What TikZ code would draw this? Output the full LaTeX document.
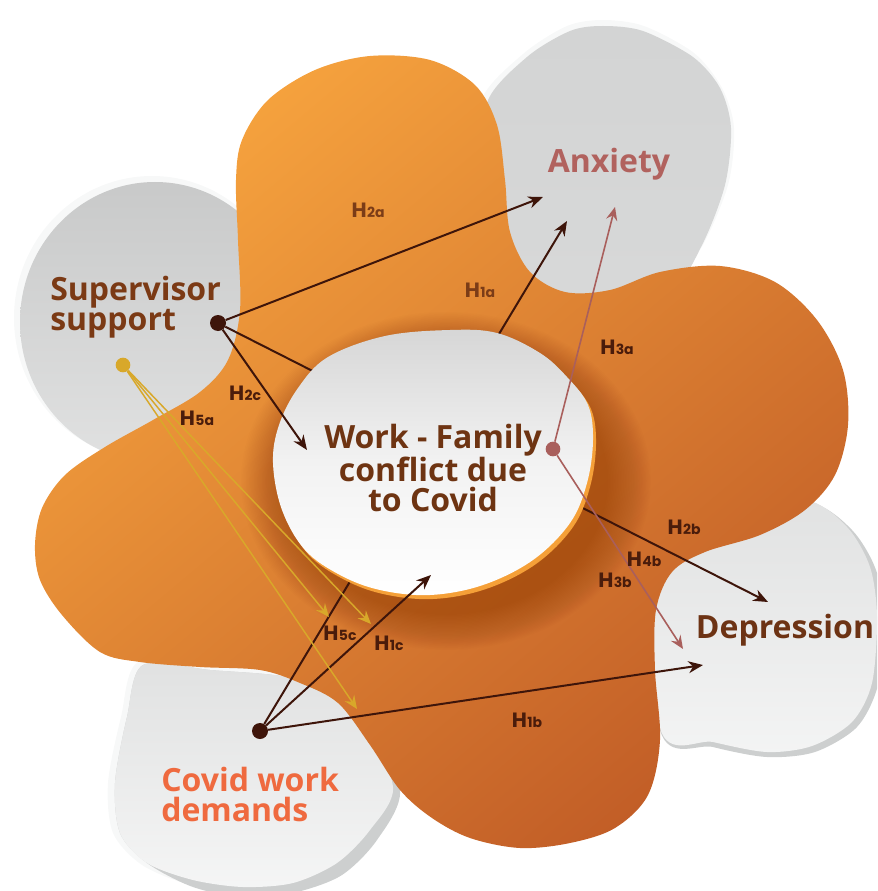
\documentclass[tikz,border=0pt]{standalone}
\usepackage{fontspec}
\setmainfont{Open Sans}
\newfontfamily\hypfont{Poppins}
\usetikzlibrary{arrows.meta}

\definecolor{greypetal}{HTML}{D3D4D4}
\definecolor{greylight}{HTML}{ECEDED}
\definecolor{greyshadow}{HTML}{CDCFCF}
\definecolor{ringwhite}{HTML}{F7F8F8}
\definecolor{orangelight}{HTML}{F6A33E}
\definecolor{orangedark}{HTML}{C25E27}
\definecolor{haloc}{HTML}{8A3510}
\definecolor{rimc}{HTML}{F5A038}
\definecolor{centretext}{HTML}{6E3412}
\definecolor{suptext}{HTML}{7B3A15}
\definecolor{anxtext}{HTML}{B1625E}
\definecolor{deptext}{HTML}{6D3314}
\definecolor{covtext}{HTML}{EF6A3F}
\definecolor{arrowc}{HTML}{3E150A}
\definecolor{rosec}{HTML}{A95F5C}
\definecolor{goldc}{HTML}{D8A82A}
\definecolor{hdark}{HTML}{4A1C0B}
\definecolor{hmid}{HTML}{7B3C17}

% hypothesis label: big H, small index
\newcommand{\hyp}[1]{H\kern0.3pt{\fontsize{10.5}{10.5}\selectfont #1}}

% outline of the orange flower
\def\orangeblob{plot[smooth cycle, tension=0.55] coordinates {
  (236,180) (242,140) (268,100) (315,70) (370,56) (430,60) (475,85)
  (497,125) (505,180) (510,232) (530,272) (565,292) (610,290) (660,272)
  (720,266) (775,282) (817,320) (843,370) (848,425) (835,475) (805,510)
  (760,535) (705,552) (672,572) (656,610) (655,670) (660,740) (648,795)
  (615,828) (570,843) (520,848) (470,838) (432,818) (400,790) (370,745)
  (338,703) (300,683) (260,670) (200,667) (140,662) (100,652) (62,615)
  (40,580) (35,545) (42,508) (65,475) (105,447) (153,420) (200,392)
  (228,360) (240,310) (238,240)}}

% outline of the central disc
\def\centreblob{plot[smooth cycle, tension=0.6] coordinates {
  (450,330) (497,333) (540,353) (567,377) (588,405) (593,440) (587,483)
  (570,523) (533,560) (483,585) (430,595) (380,590) (340,575) (305,550)
  (282,510) (273,463) (279,425) (298,388) (328,357) (385,336)}}

\begin{document}
\begin{tikzpicture}[x=0.75pt, y=-0.75pt,
  arr/.style={draw=arrowc, line width=1.5pt, -{Stealth[length=11pt,width=9pt,inset=3.5pt]}},
  rosearr/.style={draw=rosec, line width=1.2pt, -{Stealth[length=10pt,width=8.5pt,inset=3.5pt]}},
  modarr/.style={draw=goldc, line width=1.1pt, -{Stealth[length=10pt,width=8.5pt,inset=3.5pt]}},
  dot/.style={circle, inner sep=0pt, minimum size=12pt},
  hyp/.style={font=\hypfont\bfseries\fontsize{15.5}{15.5}\selectfont, text=hdark, inner sep=0pt},
  factor/.style={font=\bfseries\fontsize{24}{22.5}\selectfont, inner sep=0pt}]

  \useasboundingbox (0,0) rectangle (877,891);
  \clip (0,0) rectangle (877,891);

  % grey petals behind
  \fill[ringwhite] (152,318) ellipse [x radius=138, y radius=142];
  \shade[top color=greypetal!95!black, bottom color=greypetal!70!white]
    (155,322) ellipse [x radius=135, y radius=140];

  \fill[ringwhite] plot[smooth cycle] coordinates {
    (481,101) (523,54) (567,26) (603,20) (644,26) (694,53) (722,88) (734,128)
    (728,185) (700,250) (660,295) (560,300) (505,250) (488,170)};
  \shade[top color=greypetal, bottom color=greypetal!90!white] plot[smooth cycle] coordinates {
    (487,103) (527,57) (570,31) (603,26) (643,31) (693,57) (720,88) (731,128)
    (725,185) (702,245) (670,292) (600,305) (540,300) (508,250) (492,175)};

  \fill[greyshadow] plot[smooth cycle] coordinates {
    (650,520) (720,495) (810,502) (852,530) (876,570) (884,620) (878,685)
    (857,727) (815,752) (767,757) (713,747) (660,730)};
  \shade[top color=greylight!95!black, bottom color=greylight!60!white] plot[smooth cycle] coordinates {
    (650,520) (720,495) (807,500) (847,527) (870,567) (877,617) (872,683)
    (852,722) (812,746) (767,752) (713,742) (660,728)};

  \fill[ringwhite] plot[smooth cycle] coordinates {
    (138,662) (210,664) (300,675) (360,720) (395,785) (372,835) (337,870)
    (293,888) (243,893) (190,885) (142,865) (113,833) (108,783) (121,717)};
  \fill[greyshadow] plot[smooth cycle] coordinates {
    (143,665) (210,670) (300,680) (365,720) (400,790) (377,840) (342,875)
    (297,892) (247,898) (193,887) (147,863) (120,833) (115,783) (127,717)};
  \shade[top color=greylight!95!black, bottom color=greylight!55!white] plot[smooth cycle] coordinates {
    (143,665) (210,670) (300,680) (360,720) (393,787) (370,830) (337,863)
    (293,883) (243,887) (193,880) (147,863) (120,833) (115,783) (127,717)};

  % orange flower with its shading
  \shade[top color=orangelight, bottom color=orangedark, shading angle=40] \orangeblob;

  % darker halo round the disc, heavier below
  \begin{scope}
    \clip \orangeblob;
    \foreach \s in {1.28,1.27,...,1.01}
      \fill[haloc, opacity=0.019] (446,481) ellipse [x radius=160*\s, y radius=132*\s];
  \end{scope}

  % sources and targets
  \node[dot, fill=arrowc] (sup) at (218,323) {};
  \node[dot, fill=goldc, minimum size=11pt] (mod) at (123,365) {};
  \node[dot, fill=arrowc] (cov) at (260,731) {};

  \coordinate (anxA) at (543,197);
  \coordinate (anxB) at (567,221);
  \coordinate (anxC) at (615,207);
  \coordinate (depA) at (768,602);
  \coordinate (depB) at (683,649);
  \coordinate (depC) at (703,665);
  \coordinate (wfcA) at (307,450);
  \coordinate (wfcB) at (431,575);
  \coordinate (modA) at (329,617);
  \coordinate (modB) at (371,624);
  \coordinate (modC) at (357,709);

  % paths passing under the disc
  \draw[arr] (sup) -- (depA);
  \draw[arr] (cov) -- (anxB);

  % the disc
  \fill[rimc] [shift={(3,4)}] \centreblob;
  \shade[top color=black!16, bottom color=white, middle color=black!5] \centreblob;

  \node[factor, text=centretext, align=center] (wfc) at (433,468)
    {Work - Family\\conflict due\\to Covid};

  \node[dot, fill=rosec, minimum size=11pt] (med) at (553,449) {};

  % direct paths
  \draw[arr] (sup) -- (anxA);
  \draw[arr] (sup) -- (wfcA);
  \draw[arr] (cov) -- (wfcB);
  \draw[arr] (cov) -- (depC);
  \draw[rosearr] (med) -- (anxC);
  \draw[rosearr] (med) -- (depB);

  % moderation
  \draw[modarr] (mod) -- (modA);
  \draw[modarr] (mod) -- (modB);
  \draw[modarr] (mod) -- (modC);

  % variable names
  \node[factor, text=suptext, align=left, anchor=west] (supl) at (50,307)
    {Supervisor\\support};
  \node[factor, text=anxtext, anchor=base] (anx) at (609,173) {Anxiety};
  \node[factor, text=deptext, anchor=base] (dep) at (785,638) {Depression};
  \node[factor, text=covtext, align=left, anchor=west] (covl) at (161,794)
    {Covid work\\demands};

  % hypotheses
  \node[hyp, text=hmid] (h2a) at (368,210) {\hyp{2a}};
  \node[hyp, text=hmid] (h1a) at (480,290) {\hyp{1a}};
  \node[hyp] (h3a) at (617,347) {\hyp{3a}};
  \node[hyp] (h2c) at (245,393) {\hyp{2c}};
  \node[hyp] (h5a) at (197,418) {\hyp{5a}};
  \node[hyp] (h2b) at (684,527) {\hyp{2b}};
  \node[hyp] (h4b) at (644,559) {\hyp{4b}};
  \node[hyp] (h3b) at (615,580) {\hyp{3b}};
  \node[hyp] (h5c) at (340,633) {\hyp{5c}};
  \node[hyp] (h1c) at (389,643) {\hyp{1c}};
  \node[hyp] (h1b) at (527,720) {\hyp{1b}};

\end{tikzpicture}
\end{document}
